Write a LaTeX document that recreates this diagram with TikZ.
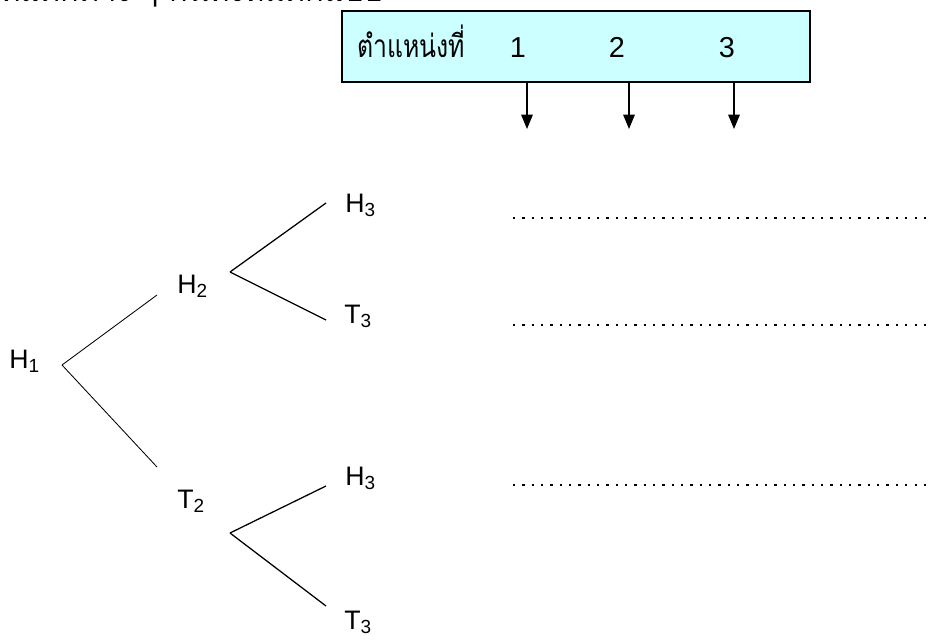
\documentclass[tikz,border=0pt]{standalone}
\usepackage{fontspec}
\setmainfont{Liberation Sans}
\newfontfamily\thaifont[Script=Thai]{Loma}
\usetikzlibrary{arrows.meta, positioning}
\usepackage{xcolor}
\definecolor{boxfill}{RGB}{204, 255, 255}
\newcommand{\idx}[1]{\raisebox{-0.3ex}{\fontsize{13.5}{14}\selectfont #1}}
\tikzstyle{posbox} = [rectangle, draw=black, fill=boxfill, line width=1pt,
                      minimum width=11.7cm, minimum height=1.775cm, inner sep=0pt]
\tikzstyle{leaf}   = [inner sep=0pt, anchor=base west, font=\fontsize{19}{22}\selectfont]
\tikzstyle{num}    = [inner sep=0pt, anchor=base, font=\fontsize{20.5}{24}\selectfont]
\tikzstyle{branch} = [line width=0.9pt]
\tikzstyle{stem}   = [line width=0.6pt]
\tikzstyle{arrow}  = [-{Triangle[length=3.6mm, width=2.9mm]}, line width=0.9pt]
\tikzstyle{blank}  = [line width=1.6pt, dash pattern=on 1.6pt off 5.04pt]

\begin{document}
\begin{tikzpicture}[x=0.025cm, y=-0.025cm]
  \useasboundingbox (0,0) rectangle (928,644);

  % cut-off question line
  \begin{scope}
    \clip (0,0) rectangle (928,644);
    \node (quest) [inner sep=0pt, anchor=base west, font=\thaifont\fontsize{22}{26}\selectfont]
          at (0,1.5) {ที่แตกต่าง ๆ กันทั้งหมดกี่แบบ};
  \end{scope}

  % Position box
  \node (pos)  [posbox] at (576,46.5) {};
  \node (word) [inner sep=0pt, anchor=base west, font=\thaifont\fontsize{18}{21}\selectfont]
               at (357,58) {\scalebox{0.98}[1.25]{ตำแหน่งที่}};
  \node (n1)   [num] at (518,58) {1};
  \node (n2)   [num] at (617,58) {2};
  \node (n3)   [num] at (727,58) {3};

  \coordinate (p1) at (527,129);
  \coordinate (p2) at (629,129);
  \coordinate (p3) at (734,129);
  \foreach \p in {p1, p2, p3}
    \draw [arrow] (\p |- pos.south) -- (\p);

  % Tree
  \node (h1)  [leaf] at (9,368)   {H\idx{1}};
  \node (h2)  [leaf] at (177,293) {H\idx{2}};
  \node (t2)  [leaf] at (177,508) {T\idx{2}};
  \node (h3a) [leaf] at (345,212) {H\idx{3}};
  \node (t3a) [leaf] at (344,323) {T\idx{3}};
  \node (h3b) [leaf] at (345,485) {H\idx{3}};
  \node (t3b) [leaf] at (344,629) {T\idx{3}};

  \coordinate (h1fork) at (62,365);
  \coordinate (h2fork) at (230,272);
  \coordinate (t2fork) at (230,533);
  \coordinate (h2end)  at (157,295);
  \coordinate (t2end)  at (157,467);
  \coordinate (h3aend) at (326,203);
  \coordinate (t3aend) at (326,320);
  \coordinate (h3bend) at (326,486);
  \coordinate (t3bend) at (326,606);

  \draw [stem]   (h1fork) -- (h2end);
  \draw [stem]   (h1fork) -- (t2end);
  \draw [branch] (h2fork) -- (h3aend);
  \draw [branch] (h2fork) -- (t3aend);
  \draw [branch] (t2fork) -- (h3bend);
  \draw [branch] (t2fork) -- (t3bend);

  % Answer blanks
  \foreach \y in {218, 325, 485}
    \draw [blank] (513,\y) -- (932,\y);
\end{tikzpicture}
\end{document}
